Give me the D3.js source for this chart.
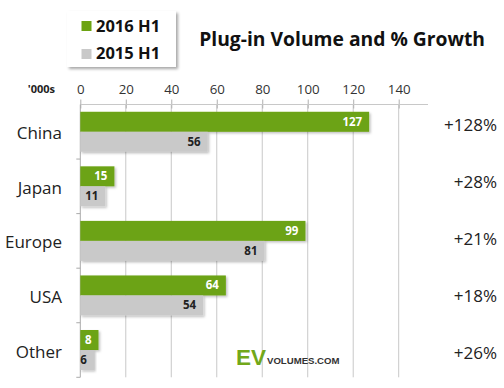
<!DOCTYPE html>
<html><head><meta charset="utf-8">
<script src="https://cdn.jsdelivr.net/npm/d3@7"></script>
<style>
html,body{margin:0;padding:0;background:#fff;}
svg{display:block;font-family:"Open Sans",sans-serif;}
</style></head><body>
<script>
const categories = ["China","Japan","Europe","USA","Other"];
const values2016 = [127,15,99,64,8];
const values2015 = [56,11,81,54,6];
const growthLabels = ["+128%","+28%","+21%","+18%","+26%"];
const xTicks = [0,20,40,60,80,100,120,140];
const seriesNames = ["2016 H1","2015 H1"];

const W=504,H=388;
const green="#6ca312", gray="#c9c9c9";
const svg=d3.select("body").append("svg").attr("width",W).attr("height",H);
const defs=svg.append("defs");
const f=defs.append("filter").attr("id","sh").attr("x","-10%").attr("y","-20%").attr("width","130%").attr("height","160%");
f.append("feDropShadow").attr("dx",1.5).attr("dy",1.5).attr("stdDeviation",1).attr("flood-color","#000").attr("flood-opacity",0.25);
const f2=defs.append("filter").attr("id","sh2").attr("x","-10%").attr("y","-10%").attr("width","130%").attr("height","130%");
f2.append("feDropShadow").attr("dx",2).attr("dy",2).attr("stdDeviation",1.8).attr("flood-color","#000").attr("flood-opacity",0.35);

const x=d3.scaleLinear().domain([0,140]).range([80.3,398.7]);
const xEnd=428;
const y=d3.scaleBand().domain(categories).range([104.5,377.3]);
const barH=20, pad=(y.bandwidth()-2*barH)/2;

// grid lines
svg.append("g").selectAll("line").data(xTicks.slice(1)).join("line")
 .attr("x1",d=>x(d)).attr("x2",d=>x(d)).attr("y1",104.5).attr("y2",377.3)
 .attr("stroke","#c8c8c8").attr("stroke-width",1);

// top axis
const ax=svg.append("g").attr("transform","translate(0,104.5)")
 .call(d3.axisTop(x).tickValues(xTicks).tickSize(5).tickPadding(6));
ax.select(".domain").remove();
ax.append("line").attr("x1",x(0)).attr("x2",xEnd).attr("stroke","#c8c8c8");
ax.selectAll(".tick line").attr("stroke","#b0b0b0").attr("y2",-5).attr("y1",4);
ax.selectAll(".tick text").attr("font-family","Open Sans").attr("font-size",13.3).attr("fill","#333");
svg.append("text").attr("x",55).attr("y",93).attr("text-anchor","end")
 .attr("font-size",11).attr("font-weight","bold").attr("fill","#222").text("'000s");

// left axis
const ly=svg.append("g");
ly.append("line").attr("x1",x(0)).attr("x2",x(0)).attr("y1",104.5).attr("y2",377.3).attr("stroke","#aaa");
const bounds=categories.map(c=>y(c)).concat([y(categories[4])+y.bandwidth()]).slice(1);
ly.selectAll("line.t").data(bounds).join("line").attr("class","t")
 .attr("x1",x(0)-4).attr("x2",x(0)).attr("y1",d=>d).attr("y2",d=>d).attr("stroke","#aaa");

// bars
const g=svg.append("g");
g.selectAll("rect.a").data(categories).join("rect").attr("class","a")
 .attr("x",x(0)).attr("y",c=>y(c)+pad).attr("height",barH)
 .attr("width",(c,i)=>x(values2016[i])-x(0)).attr("fill",green).attr("filter","url(#sh)");
g.selectAll("rect.b").data(categories).join("rect").attr("class","b")
 .attr("x",x(0)).attr("y",c=>y(c)+pad+barH).attr("height",barH)
 .attr("width",(c,i)=>x(values2015[i])-x(0)).attr("fill",gray).attr("filter","url(#sh)");

g.selectAll("text.a").data(categories).join("text").attr("class","a")
 .attr("x",(c,i)=>x(values2016[i])-7).attr("y",c=>y(c)+pad+barH/2+4)
 .attr("text-anchor","end").attr("font-size",11.5).attr("font-weight","bold").attr("fill","#fff")
 .text((c,i)=>values2016[i]);
g.selectAll("text.b").data(categories).join("text").attr("class","b")
 .attr("x",(c,i)=>x(values2015[i])-7).attr("y",c=>y(c)+pad+barH*1.5+4)
 .attr("text-anchor","end").attr("font-size",11.5).attr("font-weight","bold").attr("fill","#222")
 .text((c,i)=>values2015[i]);

// category labels
svg.append("g").selectAll("text").data(categories).join("text")
 .attr("x",62).attr("y",c=>y(c)+y.bandwidth()/2+7.5).attr("text-anchor","end")
 .attr("font-size",17).attr("fill","#222").text(c=>c);

// growth labels
const gy=d3.scalePoint().domain(categories).range([130.5,359.3]);
svg.append("g").selectAll("text").data(categories).join("text")
 .attr("x",497).attr("y",c=>gy(c)).attr("text-anchor","end")
 .attr("font-size",17).attr("fill","#222").text((c,i)=>growthLabels[i]);

// title
svg.append("text").attr("x",485).attr("y",45.5).attr("text-anchor","end")
 .attr("font-size",19.3).attr("font-weight","bold").attr("fill","#111").text("Plug-in Volume and % Growth");

// legend
const lg=svg.append("g");
lg.append("rect").attr("x",67).attr("y",11).attr("width",109).attr("height",56).attr("fill","#fff").attr("filter","url(#sh2)");
const lcol=[green,gray];
seriesNames.forEach((s,i)=>{
  lg.append("rect").attr("x",81.5).attr("y",21+i*28).attr("width",10).attr("height",10).attr("fill",lcol[i]);
  lg.append("text").attr("x",96).attr("y",31.8+i*27.6).attr("font-size",16.5).attr("font-weight","bold").attr("fill","#111").text(s);
});

// logo
svg.append("text").attr("x",236).attr("y",364.5).attr("font-family","Liberation Sans, Arial, sans-serif")
 .attr("font-size",22.5).attr("font-weight","bold").attr("fill","#72a81a").text("EV");
svg.append("text").attr("x",267).attr("y",364.3).attr("font-family","Liberation Sans, Arial, sans-serif")
 .attr("font-size",9.6).attr("font-weight","bold").attr("fill","#333").text("VOLUMES.COM");
</script>
</body></html>
